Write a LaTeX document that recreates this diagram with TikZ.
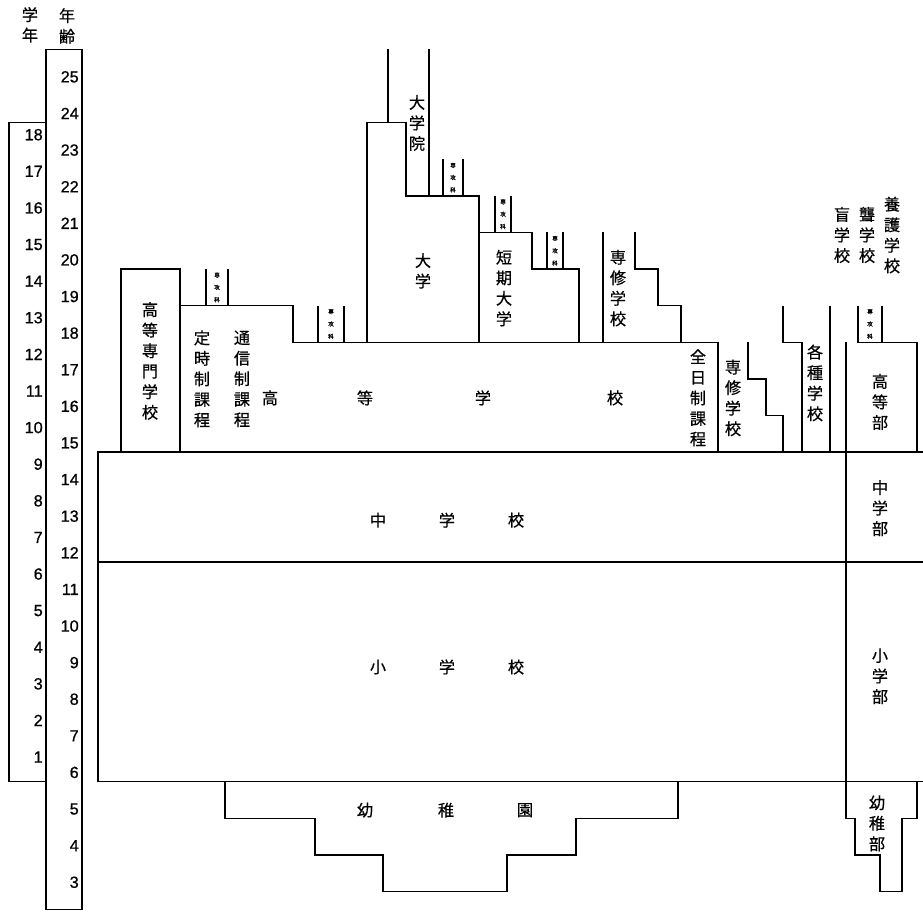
\documentclass[tikz,border=0pt]{standalone}
\usepackage{fontspec}
\setmainfont{Noto Sans CJK JP}[FakeBold=0.5]
\newfontfamily\numfont{Liberation Sans}[FakeBold=0.8]
\usetikzlibrary{positioning}
\tikzset{
  tate/.style={align=center, inner sep=0pt, font=\fontsize{11.5}{14.6}\selectfont},
  senkoka/.style={align=center, inner sep=0pt, font=\fontsize{4}{8.8}\selectfont},
  numlabel/.style={anchor=east, inner sep=0pt, font=\numfont\fontsize{11.5}{13}\selectfont},
  outline/.style={line width=1pt, line join=miter}
}

\begin{document}
\begin{tikzpicture}[x=0.025cm, y=0.915cm]
    \useasboundingbox (0,2.404) rectangle (923,27.35);

    % scales
    \node[tate] (hdgrade) at (30,26.67) {学\\年};
    \node[tate] (hdage) at (67,26.64) {年\\齢};
    \draw[outline] (9,6) rectangle (46,24);
    \draw[outline] (46,2.5) rectangle (82,26);
    \foreach \g in {1,...,18}
      \node[numlabel] (grade\g) at (43,\g+5.67) {\g};
    \foreach \a in {3,...,25}
      \node[numlabel] (age\a) at (79,\a+0.25) {\a};

    % compulsory schooling
    \draw[outline] (923,15) -- (98,15) -- (98,6) -- (923,6);
    \draw[outline] (98,12) -- (923,12);
    \node[tate] (chu1) at (378,13.14) {中};
    \node[tate] (chu2) at (447,13.14) {学};
    \node[tate] (chu3) at (516,13.14) {校};
    \node[tate] (sho1) at (378,9.13) {小};
    \node[tate] (sho2) at (447,9.13) {学};
    \node[tate] (sho3) at (516,9.13) {校};

    % kindergarten
    \draw[outline] (225,6) -- (225,5) -- (315,5) -- (315,4) -- (383,4) -- (383,3)
      -- (507,3) -- (507,4) -- (576,4) -- (576,5) -- (678,5) -- (678,6);
    \node[tate] (yo1) at (365,5.22) {幼};
    \node[tate] (yo2) at (446,5.22) {稚};
    \node[tate] (yo3) at (525,5.22) {園};

    % upper secondary
    \draw[outline] (121,15) -- (121,20) -- (180,20) -- (180,15);
    \node[tate] (kosen) at (150,17.49) {高\\等\\専\\門\\学\\校};
    \draw[outline] (180,19) -- (293,19) -- (293,18) -- (718,18) -- (718,15);
    \node[tate] (teiji) at (202,17) {定\\時\\制\\課\\程};
    \node[tate] (tsushin) at (242,17) {通\\信\\制\\課\\程};
    \node[tate] (zennichi) at (698,16.48) {全\\日\\制\\課\\程};
    \node[tate] (ko1) at (270,16.48) {高};
    \node[tate] (ko2) at (365,16.48) {等};
    \node[tate] (ko3) at (483,16.48) {学};
    \node[tate] (ko4) at (615,16.48) {校};
    \draw[outline] (206,19) -- (206,20) (228,19) -- (228,20);
    \node[senkoka] (sk1) at (217,19.5) {専\\攻\\科};
    \draw[outline] (318,18) -- (318,19) (344,18) -- (344,19);
    \node[senkoka] (sk2) at (331,18.5) {専\\攻\\科};

    % university and graduate school
    \draw[outline] (367,18) -- (367,24) -- (406,24) -- (406,22) -- (479,22) -- (479,18);
    \draw[outline] (388,24) -- (388,26) (429,22) -- (429,26);
    \node[tate] (daigakuin) at (417,23.99) {大\\学\\院};
    \node[tate] (daigaku) at (423,19.95) {大\\学};
    \draw[outline] (443,22) -- (443,23) (463,22) -- (463,23);
    \node[senkoka] (sk3) at (453,22.5) {専\\攻\\科};

    % junior college
    \draw[outline] (479,21) -- (532,21) -- (532,20) -- (579,20) -- (579,18);
    \node[tate] (tandai) at (504,19.48) {短\\期\\大\\学};
    \draw[outline] (495,21) -- (495,22) (511,21) -- (511,22);
    \node[senkoka] (sk4) at (503,21.5) {専\\攻\\科};
    \draw[outline] (547,20) -- (547,21) (563,20) -- (563,21);
    \node[senkoka] (sk5) at (555,20.5) {専\\攻\\科};

    % specialized training colleges
    \draw[outline] (603,18) -- (603,21);
    \draw[outline] (635,21) -- (635,20) -- (658,20) -- (658,19) -- (681,19) -- (681,18);
    \node[tate] (senshu1) at (618,19.48) {専\\修\\学\\校};
    \draw[outline] (748,18) -- (748,17) -- (766,17) -- (766,16) -- (783,16) -- (783,15);
    \node[tate] (senshu2) at (733,16.48) {専\\修\\学\\校};
    \draw[outline] (783,19) -- (783,18) -- (802,18) -- (802,15);
    \draw[outline] (830,19) -- (830,15);
    \node[tate] (kakushu) at (815,16.89) {各\\種\\学\\校};

    % special schools
    \node[tate] (mo) at (842,20.93) {盲\\学\\校};
    \node[tate] (ro) at (867,20.93) {聾\\学\\校};
    \node[tate] (yogo) at (892,20.93) {養\\護\\学\\校};
    \draw[outline] (846,18) -- (846,5) -- (855,5) -- (855,4) -- (880,4) -- (880,3)
      -- (902,3) -- (902,5) -- (917,5) -- (917,6);
    \draw[outline] (858,19) -- (858,18) -- (917,18) -- (917,15);
    \draw[outline] (882,19) -- (882,18);
    \node[senkoka] (sk6) at (870,18.5) {専\\攻\\科};
    \node[tate] (kotobu) at (880,16.37) {高\\等\\部};
    \node[tate] (chubu) at (880,13.47) {中\\学\\部};
    \node[tate] (shobu) at (880,8.88) {小\\学\\部};
    \node[tate] (yobu) at (877,4.86) {幼\\稚\\部};
  \end{tikzpicture}
\end{document}
